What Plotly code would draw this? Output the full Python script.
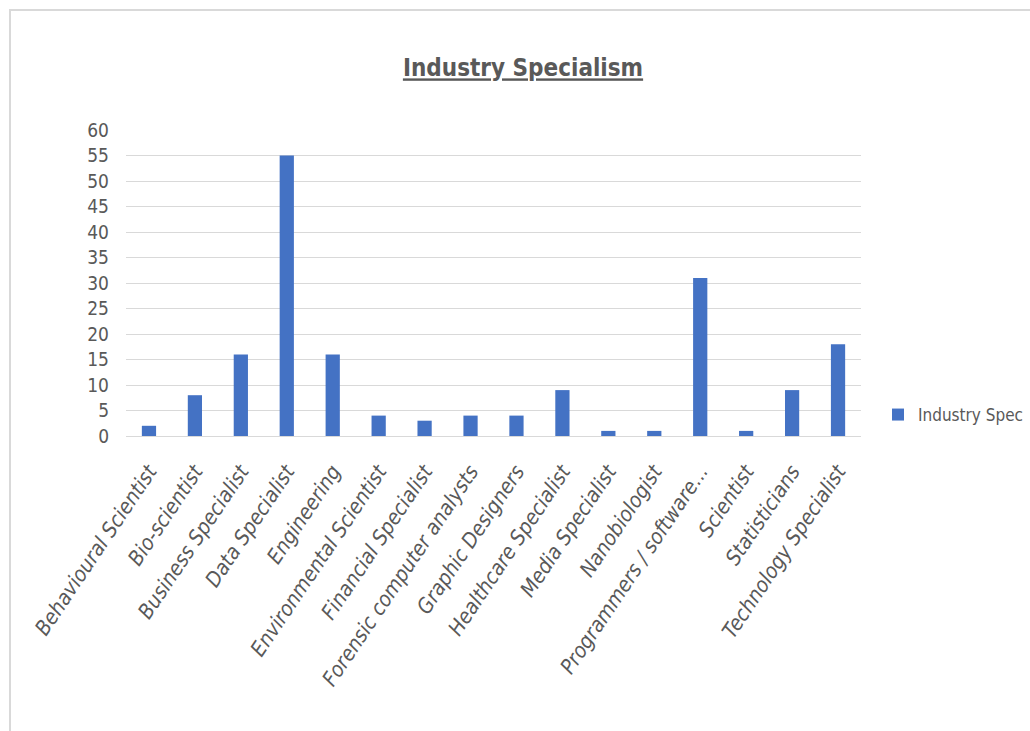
import plotly.graph_objects as go

categories = [
    "Behavioural Scientist", "Bio-scientist", "Business Specialist", "Data Specialist",
    "Engineering", "Environmental Scientist", "Financial Specialist",
    "Forensic computer analysts", "Graphic Designers", "Healthcare Specialist",
    "Media Specialist", "Nanobiologist", "Programmers / software...", "Scientist",
    "Statisticians", "Technology Specialist",
]
counts = [2, 8, 16, 55, 16, 4, 3, 4, 4, 9, 1, 1, 31, 1, 9, 18]
y_ticks = list(range(0, 61, 5))

W, H = 1030, 731
L, R, T, B = 126, 169, 130, 295
pw, ph = W - L - R, H - T - B

FONT = "DejaVu Sans Condensed, DejaVu Sans, sans-serif"
GREY = "#595959"

fig = go.Figure(
    go.Bar(
        x=categories,
        y=counts,
        name="Industry Spec",
        marker=dict(color="#4472c4", line=dict(width=0)),
    )
)

# chart-area frame (top and left edges)
def px_to_paper_x(px):
    return (px - L) / pw

def px_to_paper_y(py):
    return 1 - (py - T) / ph

fig.add_shape(type="line", xref="paper", yref="paper",
              x0=px_to_paper_x(9), x1=px_to_paper_x(W + 5),
              y0=px_to_paper_y(10), y1=px_to_paper_y(10),
              line=dict(color="#d9d9d9", width=2))
fig.add_shape(type="line", xref="paper", yref="paper",
              x0=px_to_paper_x(10), x1=px_to_paper_x(10),
              y0=px_to_paper_y(10), y1=px_to_paper_y(H + 5),
              line=dict(color="#d9d9d9", width=2))

fig.update_layout(
    width=W, height=H,
    margin=dict(l=L, r=R, t=T, b=B, autoexpand=False),
    paper_bgcolor="white", plot_bgcolor="white",
    bargap=0.69,
    title=dict(
        text="<b><u>Industry Specialism</u></b>",
        x=523 / W, xanchor="center", y=1 - 68 / H, yanchor="middle",
        font=dict(family=FONT, size=24, color=GREY),
    ),
    showlegend=True,
    legend=dict(
        x=px_to_paper_x(878), xanchor="left",
        y=px_to_paper_y(415), yanchor="middle",
        font=dict(family=FONT, size=17, color=GREY),
        itemwidth=30, bgcolor="rgba(0,0,0,0)",
    ),
    font=dict(family=FONT, color=GREY),
)

fig.update_xaxes(
    type="category", tickangle=-56, showgrid=False, showline=False,
    ticks="", ticklabelstandoff=18,
    tickvals=categories, ticktext=[f"<i>{c}</i>" for c in categories],
    tickfont=dict(family=FONT, size=21, color=GREY),
)
fig.update_yaxes(
    range=[0, 60], tickvals=y_ticks, showgrid=True, gridcolor="#d9d9d9",
    gridwidth=1, zeroline=True, zerolinecolor="#d9d9d9", zerolinewidth=1,
    showline=False, ticks="", ticklabelstandoff=16,
    tickfont=dict(family=FONT, size=19, color=GREY),
)

fig.write_html("out.html")
